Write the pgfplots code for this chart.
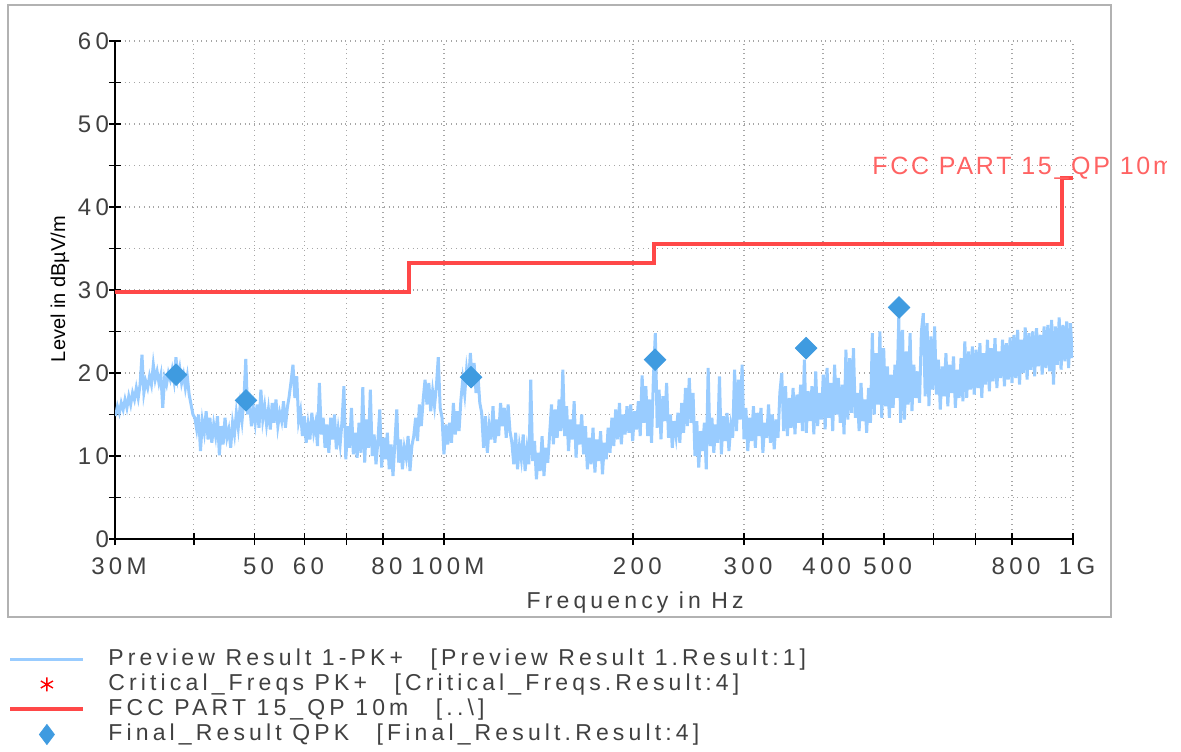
\documentclass[border=0pt]{standalone}
\usepackage{fontspec}
\setmainfont{Liberation Sans}[LetterSpace=18]
\newfontfamily\plainfont{Liberation Sans}
\newfontfamily\fccfont{Liberation Sans}[LetterSpace=11]
\usepackage{pgfplots}
\pgfplotsset{compat=1.18}
\definecolor{trace}{HTML}{99CCFF}
\definecolor{limit}{HTML}{FF4848}
\definecolor{final}{HTML}{3F9BE0}
\definecolor{txt}{HTML}{404040}
\begin{document}
\begin{tikzpicture}[x=0.5pt,y=0.5pt]
\useasboundingbox (0,0) rectangle (1181,751);
\draw[black!30, line width=1pt] (8,134) rectangle (1111,746);
\begin{axis}[
 at={(57.5pt,106pt)}, anchor=south west,
 scale only axis, width=479pt, height=249pt,
 xmin=1.4771, xmax=3, ymin=0, ymax=60,
 axis x line*=bottom, axis y line*=left,
 axis line style={black, line width=1.1pt},
 xtick={1.4771,1.6021,1.6990,1.7782,1.8451,1.9031,2,2.3010,2.4771,2.6021,2.6990,2.7782,2.8451,2.9031,3},
 xticklabels={30M,,50,60,,80,100M,200,300,400,500,,,800,1G},
 ytick={0,10,20,30,40,50,60},
 minor ytick={5,15,25,35,45,55},
 tick align=center,
 major tick length=6pt, minor tick length=6pt,
 every tick/.style={black, line width=0.9pt},
 grid=both,
 major grid style={black!35, dotted, line width=0.8pt},
 minor grid style={black!35, dotted, line width=0.8pt},
 tick label style={font=\fontsize{12}{13}\selectfont, text=txt},
 /pgf/number format/assume math mode=true,
 xticklabel style={anchor=north, yshift=-3pt, xshift=2pt},
 yticklabel style={xshift=3.5pt},
 xlabel={Frequency in Hz},
 xlabel style={at={(axis description cs:0.543,-0.128)}, anchor=center, font=\fontsize{11.5}{13}\selectfont, text=txt},
 ylabel={\plainfont Level in dBµV/m},
 ylabel style={at={(axis description cs:-0.0574,0.502)}, anchor=center, font=\fontsize{10}{12}\selectfont},
 legend style={at={(axis description cs:-0.1117,-0.2170)}, anchor=north west, draw=none, fill=none,
   font=\fontsize{11.5}{13}\selectfont, text=txt, inner sep=0pt, row sep=0.5pt,
   nodes={inner sep=0pt, text height=9pt, text depth=3pt},
   /tikz/every odd column/.append style={column sep=11.5pt}},
 legend cell align=left,
 legend image code/.code={\draw[mark repeat=2,mark phase=2,#1] plot coordinates {(0pt,0pt) (18.25pt,0pt) (36.5pt,0pt)};},
]
\addplot[color=trace, line width=1.5pt] coordinates {
(1.478,14.8)(1.481,16.0)(1.484,15.2)(1.487,16.4)(1.490,15.6)(1.493,16.8)(1.496,15.8)(1.499,17.2)(1.502,16.2)(1.505,17.6)
(1.508,16.8)(1.511,18.2)(1.514,17.0)(1.517,18.6)(1.520,22.2)(1.523,17.6)(1.526,19.0)(1.529,18.2)(1.532,19.6)(1.535,18.6)
(1.538,21.0)(1.541,19.2)(1.544,20.2)(1.547,18.8)(1.550,19.8)(1.553,15.8)(1.556,19.4)(1.559,18.6)(1.562,20.0)(1.565,19.2)
(1.568,20.4)(1.571,19.0)(1.574,21.9)(1.577,19.4)(1.580,20.6)(1.583,18.8)(1.586,19.8)(1.589,18.2)(1.592,19.6)(1.595,17.4)
(1.598,16.2)(1.601,15.0)(1.604,14.6)(1.607,13.2)(1.610,15.0)(1.613,10.6)(1.616,14.2)(1.619,12.8)(1.622,15.4)(1.625,12.0)
(1.628,14.6)(1.631,11.6)(1.634,13.8)(1.637,12.4)(1.640,14.8)(1.643,10.1)(1.646,13.6)(1.649,11.4)(1.652,14.6)(1.655,12.2)
(1.658,13.2)(1.661,11.0)(1.664,14.0)(1.667,12.6)(1.670,15.2)(1.673,13.4)(1.676,16.0)(1.679,14.2)(1.682,16.8)(1.685,21.7)
(1.688,15.0)(1.691,16.4)(1.694,13.6)(1.697,15.8)(1.700,14.0)(1.703,16.2)(1.706,13.4)(1.709,18.0)(1.712,14.4)(1.715,16.0)
(1.718,13.8)(1.721,15.6)(1.724,13.2)(1.727,16.4)(1.730,14.0)(1.733,16.8)(1.736,13.6)(1.739,15.2)(1.742,14.2)(1.745,16.6)
(1.748,13.4)(1.751,15.8)(1.754,17.2)(1.757,19.0)(1.760,21.0)(1.763,17.0)(1.766,19.6)(1.769,14.2)(1.772,15.4)(1.775,12.4)
(1.778,14.8)(1.781,11.6)(1.784,13.8)(1.787,12.0)(1.790,15.2)(1.793,12.8)(1.796,14.0)(1.799,11.2)(1.802,18.8)(1.805,12.6)
(1.808,14.6)(1.811,11.0)(1.814,13.8)(1.817,10.4)(1.820,14.6)(1.823,12.0)(1.826,15.0)(1.829,10.8)(1.832,13.2)(1.835,11.4)
(1.838,14.2)(1.841,18.4)(1.844,9.6)(1.847,13.6)(1.850,11.0)(1.853,15.8)(1.856,10.2)(1.859,12.8)(1.862,9.8)(1.865,14.0)
(1.868,10.4)(1.871,18.3)(1.874,9.2)(1.877,14.4)(1.880,11.0)(1.883,18.0)(1.886,10.0)(1.889,12.6)(1.892,9.0)(1.895,11.8)
(1.898,15.6)(1.901,8.6)(1.904,12.2)(1.907,9.6)(1.910,12.8)(1.913,8.4)(1.916,11.4)(1.919,7.6)(1.922,11.6)(1.925,15.6)
(1.928,9.2)(1.931,12.0)(1.934,8.4)(1.937,11.0)(1.940,9.8)(1.943,12.4)(1.946,8.2)(1.949,11.2)(1.952,12.4)(1.955,14.6)
(1.958,11.8)(1.961,16.2)(1.964,13.6)(1.967,16.8)(1.970,19.2)(1.973,16.2)(1.976,18.8)(1.979,15.4)(1.982,17.8)(1.985,16.0)
(1.988,18.4)(1.991,21.9)(1.994,15.8)(1.997,14.6)(2.000,10.2)(2.003,13.8)(2.006,11.4)(2.009,14.0)(2.012,11.6)(2.015,16.4)
(2.018,12.6)(2.021,15.4)(2.024,13.0)(2.027,16.8)(2.030,19.2)(2.033,17.4)(2.036,20.4)(2.039,18.6)(2.042,22.4)(2.045,19.0)
(2.048,21.2)(2.051,17.6)(2.054,19.8)(2.057,16.4)(2.060,15.2)(2.063,11.0)(2.066,14.8)(2.069,10.4)(2.072,13.6)(2.075,12.0)
(2.078,16.0)(2.081,11.6)(2.084,14.4)(2.087,12.4)(2.090,16.4)(2.093,13.6)(2.096,15.8)(2.099,12.2)(2.102,16.2)(2.105,13.0)
(2.108,11.6)(2.111,9.0)(2.114,12.8)(2.117,8.4)(2.120,11.2)(2.123,9.6)(2.126,12.6)(2.129,8.2)(2.132,10.8)(2.135,9.0)
(2.138,19.2)(2.141,9.4)(2.144,11.8)(2.147,7.2)(2.150,10.4)(2.153,8.2)(2.156,12.4)(2.159,7.6)(2.162,11.0)(2.165,9.2)
(2.168,12.6)(2.171,16.2)(2.174,11.4)(2.177,15.6)(2.180,12.2)(2.183,16.8)(2.186,13.0)(2.189,20.4)(2.192,12.4)(2.195,16.0)
(2.198,10.6)(2.201,14.4)(2.204,12.0)(2.207,16.6)(2.210,9.8)(2.213,13.8)(2.216,11.4)(2.219,15.0)(2.222,10.2)(2.225,13.6)
(2.228,8.4)(2.231,12.2)(2.234,9.0)(2.237,13.4)(2.240,8.0)(2.243,12.0)(2.246,9.4)(2.249,13.0)(2.252,7.8)(2.255,11.6)
(2.258,9.6)(2.261,13.4)(2.264,10.4)(2.267,14.6)(2.270,11.2)(2.273,15.6)(2.276,12.0)(2.279,16.4)(2.282,11.4)(2.285,15.0)
(2.288,12.6)(2.291,16.0)(2.294,12.8)(2.297,16.2)(2.300,11.8)(2.303,15.4)(2.306,13.2)(2.309,16.6)(2.312,12.4)(2.315,19.7)
(2.318,14.0)(2.321,18.4)(2.324,12.4)(2.327,16.8)(2.330,11.6)(2.333,19.4)(2.336,24.8)(2.339,13.4)(2.342,18.0)(2.345,12.0)
(2.348,17.2)(2.351,14.2)(2.354,18.8)(2.357,12.2)(2.360,15.0)(2.363,11.0)(2.366,14.2)(2.369,12.4)(2.372,15.2)(2.375,11.6)
(2.378,16.4)(2.381,12.8)(2.384,18.2)(2.387,13.6)(2.390,19.4)(2.393,14.0)(2.396,17.6)(2.399,10.0)(2.402,14.2)(2.405,8.6)
(2.408,13.0)(2.411,10.6)(2.414,14.0)(2.417,8.4)(2.420,20.6)(2.423,11.2)(2.426,14.6)(2.429,10.4)(2.432,13.8)(2.435,11.6)
(2.438,19.6)(2.441,10.2)(2.444,14.8)(2.447,11.8)(2.450,15.2)(2.453,10.6)(2.456,13.6)(2.459,12.2)(2.462,20.4)(2.465,13.0)
(2.468,19.2)(2.471,14.4)(2.474,21.0)(2.477,12.0)(2.480,15.8)(2.483,10.6)(2.486,14.6)(2.489,11.8)(2.492,16.0)(2.495,11.0)
(2.498,15.2)(2.501,12.4)(2.504,15.8)(2.507,10.4)(2.510,14.0)(2.513,12.2)(2.516,16.2)(2.519,11.6)(2.522,15.0)(2.525,10.8)
(2.528,14.4)(2.531,12.2)(2.534,17.6)(2.537,20.0)(2.540,13.0)(2.543,18.4)(2.546,12.4)(2.549,17.0)(2.552,13.4)(2.555,18.2)
(2.558,12.6)(2.561,17.4)(2.564,14.0)(2.567,18.6)(2.570,13.0)(2.573,21.6)(2.576,12.8)(2.579,17.8)(2.582,14.2)(2.585,18.4)
(2.588,12.6)(2.591,20.2)(2.594,13.6)(2.597,17.6)(2.600,14.4)(2.603,19.8)(2.606,13.2)(2.609,20.6)(2.612,14.6)(2.615,18.8)
(2.618,13.0)(2.621,21.0)(2.624,15.0)(2.627,19.4)(2.630,14.0)(2.633,18.6)(2.636,12.6)(2.639,22.8)(2.642,14.4)(2.645,21.8)
(2.648,15.2)(2.651,23.0)(2.654,14.6)(2.657,17.6)(2.660,13.0)(2.663,18.8)(2.666,14.2)(2.669,16.8)(2.672,12.8)(2.675,18.2)
(2.678,14.0)(2.681,24.8)(2.684,15.0)(2.687,22.4)(2.690,16.2)(2.693,25.0)(2.696,14.6)(2.699,23.0)(2.702,16.0)(2.705,20.8)
(2.708,14.6)(2.711,19.8)(2.714,15.8)(2.717,21.0)(2.720,17.0)(2.723,26.7)(2.726,14.0)(2.729,25.2)(2.732,14.4)(2.735,22.6)
(2.738,16.2)(2.741,24.8)(2.744,15.4)(2.747,21.0)(2.750,17.0)(2.753,20.2)(2.756,16.4)(2.759,25.0)(2.762,27.2)(2.765,17.2)
(2.768,26.0)(2.771,16.0)(2.774,24.4)(2.777,18.0)(2.780,25.6)(2.783,17.4)(2.786,21.6)(2.789,15.6)(2.792,20.8)(2.795,17.2)
(2.798,22.4)(2.801,16.0)(2.804,21.0)(2.807,17.6)(2.810,22.0)(2.813,15.8)(2.816,20.4)(2.819,17.0)(2.822,21.8)(2.825,16.6)
(2.828,23.8)(2.831,17.0)(2.834,22.6)(2.837,18.0)(2.840,23.2)(2.843,17.4)(2.846,22.8)(2.849,18.2)(2.852,23.6)(2.855,17.0)
(2.858,22.4)(2.861,18.6)(2.864,24.0)(2.867,17.8)(2.870,23.0)(2.873,19.0)(2.876,24.2)(2.879,18.2)(2.882,22.6)(2.885,19.4)
(2.888,24.0)(2.891,18.4)(2.894,23.6)(2.897,19.2)(2.900,24.3)(2.903,18.8)(2.906,24.6)(2.909,19.4)(2.912,25.2)(2.915,18.6)
(2.918,24.0)(2.921,20.0)(2.924,25.5)(2.927,19.2)(2.930,24.8)(2.933,20.4)(2.936,25.0)(2.939,19.6)(2.942,25.4)(2.945,20.8)
(2.948,24.6)(2.951,19.8)(2.954,25.6)(2.957,20.6)(2.960,25.8)(2.963,20.2)(2.966,26.4)(2.969,18.6)(2.972,25.6)(2.975,21.0)
(2.978,26.7)(2.981,20.4)(2.984,25.8)(2.987,21.4)(2.990,26.2)(2.993,20.6)(2.996,26.0)(2.999,21.8)
};
\addlegendentry{Preview Result 1-PK+\hspace{1.2em}[Preview Result 1.Result:1]}
\addlegendimage{only marks, mark=asterisk, red, mark size=3.5pt, mark options={line width=0.7pt}}
\addlegendentry{Critical\_Freqs PK+\hspace{1.2em}[Critical\_Freqs.Result:4]}
\addplot[color=limit, line width=2pt] coordinates {
(1.4771,29.8)(1.9445,29.8)(1.9445,33.3)(2.3345,33.3)(2.3345,35.6)(2.9823,35.6)(2.9823,43.5)(3,43.5)
};
\addlegendentry{FCC PART 15\_QP 10m\hspace{1.2em}[..\textbackslash]}
\addplot[only marks, mark=square*, mark size=3.8pt, mark options={rotate=45, fill=final, draw=final}, forget plot] coordinates {
(1.5741,19.8)(1.6854,16.7)(2.0431,19.5)(2.3356,21.6)(2.5757,23.0)(2.7235,27.9)
};
\addlegendimage{only marks, mark=diamond*, mark size=5pt, mark options={fill=final, draw=final}}
\addlegendentry{Final\_Result QPK\hspace{1.2em}[Final\_Result.Result:4]}
\end{axis}
\begin{scope}
\clip (8,134) rectangle (1166,746);
\node[anchor=base west, inner sep=0pt, text=limit!85, font=\fccfont\fontsize{12.5}{14}\selectfont] at (872,576) {FCC PART 15\_QP 10m};
\end{scope}
\end{tikzpicture}
\end{document}
